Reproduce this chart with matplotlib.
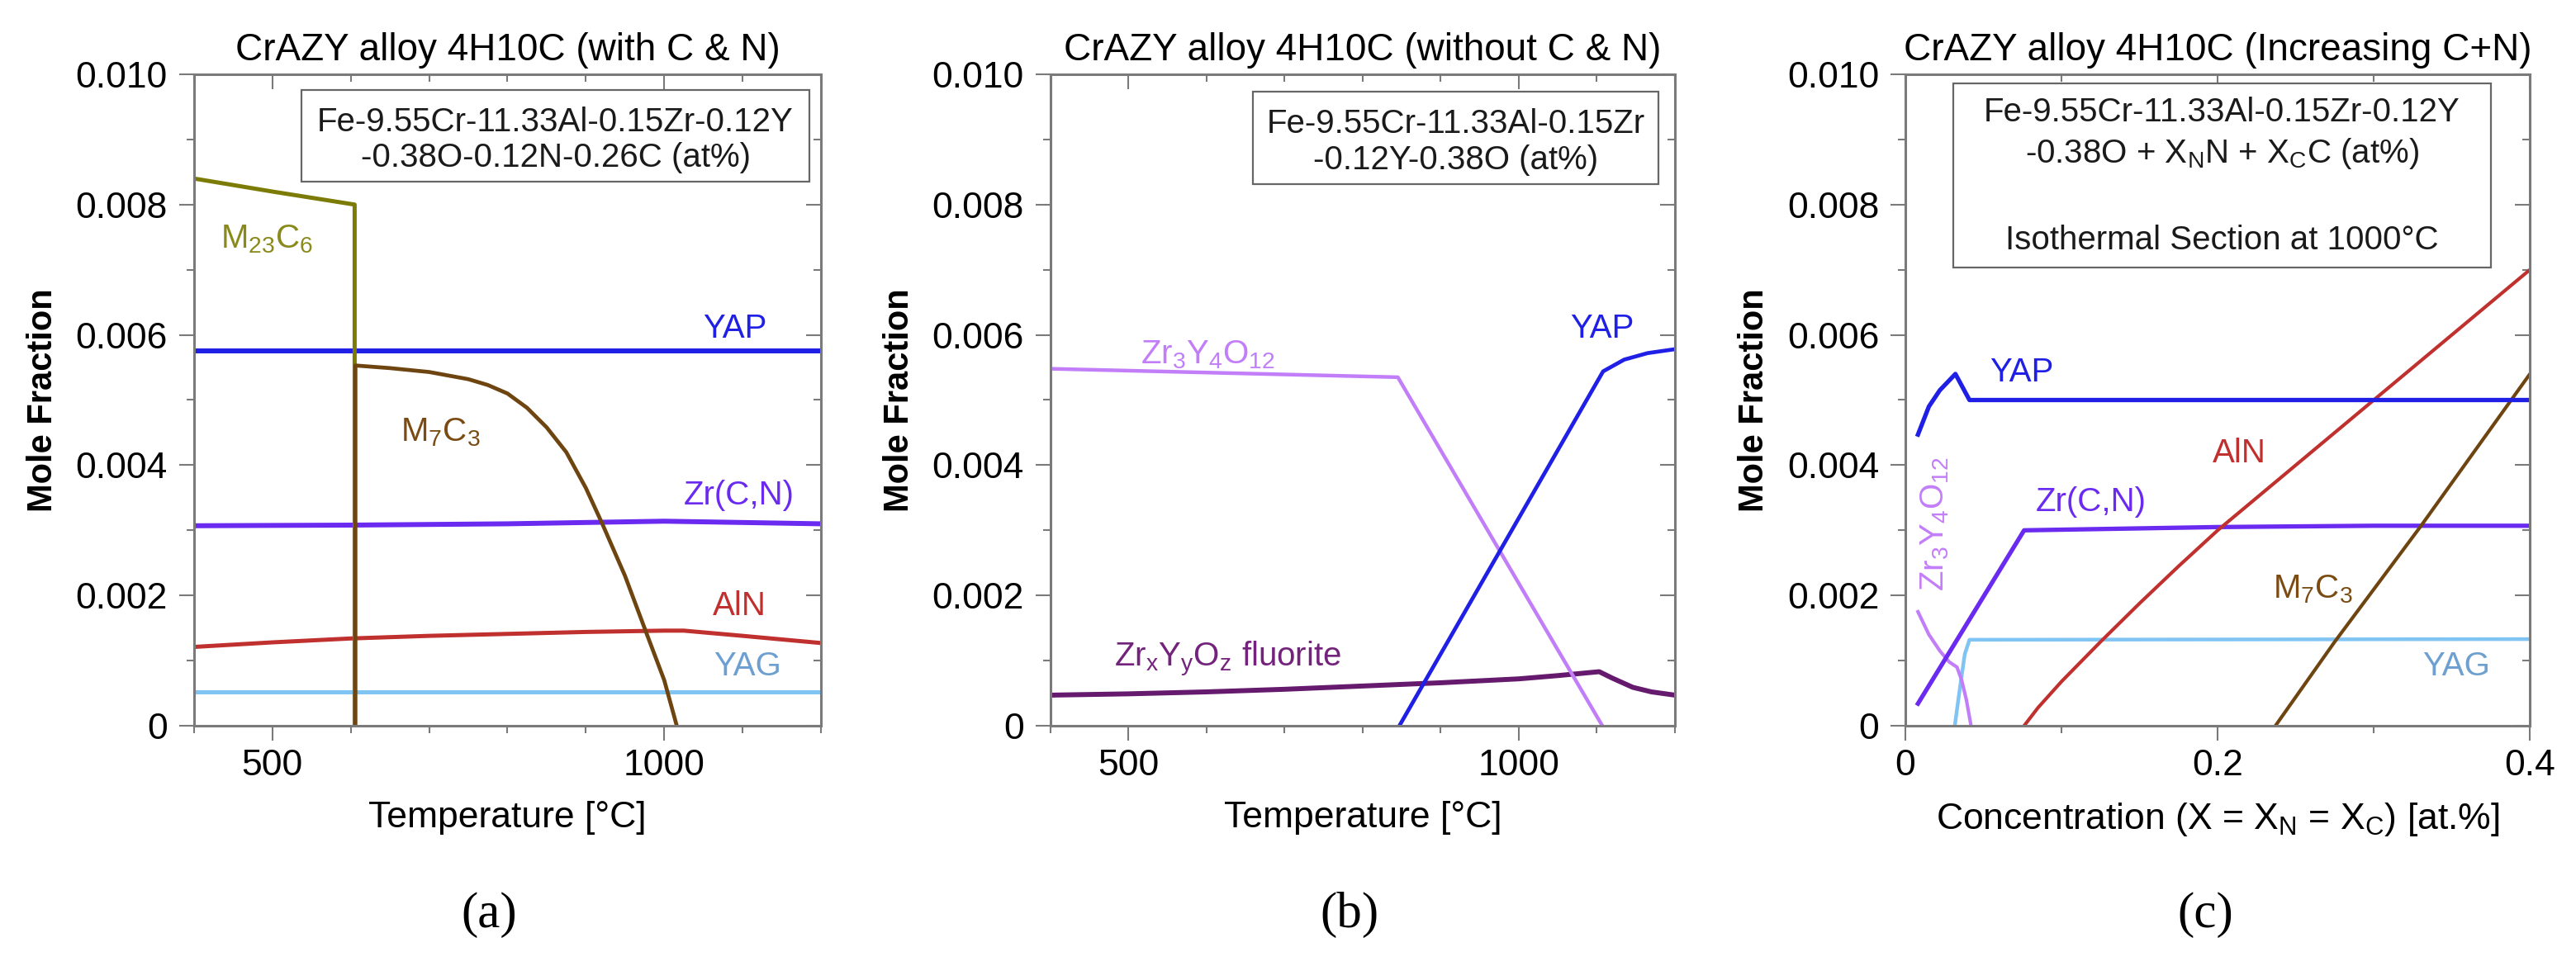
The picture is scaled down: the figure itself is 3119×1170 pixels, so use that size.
import matplotlib
matplotlib.use('Agg')
import matplotlib.pyplot as plt
from matplotlib.patches import Rectangle
from matplotlib.ticker import MultipleLocator, FuncFormatter

plt.rcParams['font.family'] = ['Liberation Sans', 'DejaVu Sans']
plt.rcParams['mathtext.default'] = 'regular'

# ---- (a) with C & N, mole fraction vs temperature ----
temp_m23c6 = [400, 500, 605, 605]
m23c6_a = [0.0084, 0.0082, 0.0080, 0.0]
temp_m7c3 = [606, 606, 650, 700, 750, 775, 800, 825, 850, 875, 900, 921, 950, 978, 1000, 1016]
m7c3_a = [0.0, 0.00553, 0.00549, 0.00543, 0.00532, 0.00523, 0.0051, 0.00488, 0.00458,
          0.0042, 0.00365, 0.0031, 0.0023, 0.0014, 0.0007, 0.0]
temp_yap_a = [400, 1200]
yap_a = [0.00575, 0.00575]
temp_zrcn_a = [400, 600, 800, 1000, 1050, 1200]
zrcn_a = [0.00307, 0.00308, 0.0031, 0.00314, 0.00313, 0.0031]
temp_aln_a = [400, 500, 600, 700, 800, 900, 1000, 1025, 1100, 1200]
aln_a = [0.00121, 0.00128, 0.00134, 0.00138, 0.00141, 0.00144, 0.00146, 0.00146, 0.00138, 0.00127]
temp_yag_a = [400, 1200]
yag_a = [0.00052, 0.00052]

# ---- (b) without C & N ----
temp_zr3_b = [400, 845, 1107]
zr3_b = [0.00548, 0.00535, 0.0]
temp_yap_b = [847, 1108, 1135, 1165, 1200]
yap_b = [0.0, 0.00544, 0.00562, 0.00572, 0.00578]
temp_fl_b = [400, 500, 600, 700, 800, 900, 1000, 1050, 1103, 1120, 1146, 1170, 1200]
fluorite_b = [0.00047, 0.00049, 0.00052, 0.00056, 0.00061, 0.00066, 0.00072, 0.00077,
              0.00083, 0.00073, 0.00059, 0.00052, 0.00047]

# ---- (c) isothermal section at 1000 C vs C+N concentration ----
conc_yap = [0.008, 0.015, 0.022, 0.032, 0.041, 0.4]
yap_c = [0.00447, 0.0049, 0.00515, 0.0054, 0.0050, 0.0050]
conc_zrcn = [0.008, 0.076, 0.2, 0.3, 0.4]
zrcn_c = [0.00034, 0.0030, 0.00305, 0.00307, 0.00307]
conc_zr3 = [0.008, 0.015, 0.022, 0.028, 0.033, 0.036, 0.039, 0.042]
zr3_c = [0.00175, 0.0014, 0.00115, 0.00098, 0.0009, 0.0007, 0.0004, 0.0]
conc_yag = [0.0316, 0.035, 0.038, 0.041, 0.4]
yag_c = [0.0, 0.0006, 0.0011, 0.00132, 0.00133]
conc_aln = [0.076, 0.085, 0.1, 0.125, 0.15, 0.175, 0.2, 0.3, 0.4]
aln_c = [0.0, 0.00028, 0.00068, 0.00129, 0.00188, 0.00245, 0.0030, 0.0050, 0.0070]
conc_m7c3 = [0.237, 0.275, 0.33, 0.4]
m7c3_c = [0.0, 0.00129, 0.00306, 0.0054]

titles = ['CrAZY alloy 4H10C (with C & N)',
          'CrAZY alloy 4H10C (without C & N)',
          'CrAZY alloy 4H10C (Increasing C+N)']
panel_tags = ['(a)', '(b)', '(c)']

OLIVE = '#7b7b05'
BLUE = '#1f1fe6'
BROWN = '#6e4510'
VIOLET = '#6a2af0'
RED = '#c0302e'
LBLUE = '#80c4f4'
LPURPLE = '#c27ef8'
DPURPLE = '#651a6e'
GRAY = '#7a7a7a'

fig = plt.figure(figsize=(31.19, 11.70), dpi=100)
ax_a = fig.add_axes([0.0753, 0.2487, 0.2434, 0.6744])
ax_b = fig.add_axes([0.4078, 0.2487, 0.2424, 0.6744])
ax_c = fig.add_axes([0.7397, 0.2487, 0.2424, 0.6744])


def yfmt(v, pos):
    return '0' if abs(v) < 1e-12 else f'{v:.3f}'


def style(ax, xmaj, xmin, xfmt):
    for s in ax.spines.values():
        s.set_color(GRAY)
        s.set_linewidth(2.2)
    ax.set_ylim(0, 0.010)
    ax.yaxis.set_major_locator(MultipleLocator(0.002))
    ax.yaxis.set_minor_locator(MultipleLocator(0.001))
    ax.yaxis.set_major_formatter(FuncFormatter(yfmt))
    ax.xaxis.set_major_locator(MultipleLocator(xmaj))
    ax.xaxis.set_minor_locator(MultipleLocator(xmin))
    ax.xaxis.set_major_formatter(FuncFormatter(xfmt))
    ax.tick_params(which='both', direction='out', color=GRAY, width=1.5, labelsize=32)
    ax.tick_params(which='major', length=13)
    ax.tick_params(which='minor', length=6.5)
    ax.tick_params(axis='y', pad=10)
    ax.tick_params(axis='x', pad=7)
    # inward ticks on the top and right sides
    top = ax.secondary_xaxis('top')
    top.xaxis.set_major_locator(MultipleLocator(xmaj))
    top.xaxis.set_minor_locator(MultipleLocator(xmin))
    top.tick_params(which='both', direction='in', color=GRAY, width=1.5, labeltop=False)
    top.tick_params(which='major', length=13)
    top.tick_params(which='minor', length=6.5)
    top.spines['top'].set_visible(False)
    right = ax.secondary_yaxis('right')
    right.yaxis.set_major_locator(MultipleLocator(0.002))
    right.yaxis.set_minor_locator(MultipleLocator(0.001))
    right.tick_params(which='both', direction='in', color=GRAY, width=1.5, labelright=False)
    right.tick_params(which='major', length=13)
    right.tick_params(which='minor', length=6.5)
    right.spines['right'].set_visible(False)
    ax.set_ylabel('Mole Fraction', fontsize=30, fontweight='bold', labelpad=14)


def comp_box(ax, x0, y0, x1, y1, lines):
    ax.add_patch(Rectangle((x0, y0), x1 - x0, y1 - y0, transform=ax.transAxes,
                           facecolor='white', edgecolor='#666666', lw=1.6, zorder=5))
    for txt, yy in lines:
        ax.text((x0 + x1) / 2, yy, txt, transform=ax.transAxes, ha='center', va='center',
                fontsize=29, color='#1a1a1a', zorder=6)


tempfmt = lambda v, p: f'{v:.0f}'
concfmt = lambda v, p: '0' if abs(v) < 1e-9 else f'{v:.1f}'

# ---- panel (a) ----
ax = ax_a
style(ax, 500, 100, tempfmt)
ax.set_xlim(400, 1200)
ax.plot(temp_yag_a, yag_a, color=LBLUE, lw=3.6)
ax.plot(temp_aln_a, aln_a, color=RED, lw=3.6)
ax.plot(temp_zrcn_a, zrcn_a, color=VIOLET, lw=4.3)
ax.plot(temp_yap_a, yap_a, color=BLUE, lw=4.3)
ax.plot(temp_m23c6, m23c6_a, color=OLIVE, lw=3.6)
ax.plot(temp_m7c3, m7c3_a, color=BROWN, lw=3.4)
ax.text(493, 0.00747, r'M$_{23}$C$_6$', color='#8a8a1c', fontsize=29, ha='center', va='center')
ax.text(1090, 0.0061, 'YAP', color=BLUE, fontsize=29, ha='center', va='center')
ax.text(714, 0.0045, r'M$_7$C$_3$', color='#7a4c14', fontsize=29, ha='center', va='center')
ax.text(1095, 0.00354, 'Zr(C,N)', color=VIOLET, fontsize=29, ha='center', va='center')
ax.text(1096, 0.00184, 'AlN', color=RED, fontsize=29, ha='center', va='center')
ax.text(1106, 0.00091, 'YAG', color='#6d9fd0', fontsize=29, ha='center', va='center')
comp_box(ax, 0.171, 0.835, 0.982, 0.976,
         [('Fe-9.55Cr-11.33Al-0.15Zr-0.12Y', 0.927), ('-0.38O-0.12N-0.26C (at%)', 0.872)])
ax.set_xlabel('Temperature [°C]', fontsize=32, labelpad=16)

# ---- panel (b) ----
ax = ax_b
style(ax, 500, 100, tempfmt)
ax.set_xlim(400, 1200)
ax.plot(temp_fl_b, fluorite_b, color=DPURPLE, lw=4.3)
ax.plot(temp_zr3_b, zr3_b, color=LPURPLE, lw=3.2)
ax.plot(temp_yap_b, yap_b, color=BLUE, lw=3.4)
ax.text(601, 0.0057, r'Zr$_3$Y$_4$O$_{12}$', color=LPURPLE, fontsize=29, ha='center', va='center')
ax.text(1107, 0.0061, 'YAP', color=BLUE, fontsize=29, ha='center', va='center')
ax.text(627, 0.00102, r'Zr$_x$Y$_y$O$_z$ fluorite', color='#74237c', fontsize=29, ha='center', va='center')
comp_box(ax, 0.324, 0.831, 0.974, 0.973,
         [('Fe-9.55Cr-11.33Al-0.15Zr', 0.924), ('-0.12Y-0.38O (at%)', 0.868)])
ax.set_xlabel('Temperature [°C]', fontsize=32, labelpad=16)

# ---- panel (c) ----
ax = ax_c
style(ax, 0.2, 0.1, concfmt)
ax.set_xlim(0, 0.4)
ax.plot(conc_yag, yag_c, color=LBLUE, lw=3.2)
ax.plot(conc_zr3, zr3_c, color=LPURPLE, lw=3.0)
ax.plot(conc_zrcn, zrcn_c, color=VIOLET, lw=3.8)
ax.plot(conc_aln, aln_c, color=RED, lw=3.0)
ax.plot(conc_m7c3, m7c3_c, color=BROWN, lw=3.0)
ax.plot(conc_yap, yap_c, color=BLUE, lw=3.8)
ax.text(0.0744, 0.00543, 'YAP', color=BLUE, fontsize=29, ha='center', va='center')
ax.text(0.214, 0.00418, 'AlN', color=RED, fontsize=29, ha='center', va='center')
ax.text(0.119, 0.00343, 'Zr(C,N)', color=VIOLET, fontsize=29, ha='center', va='center')
ax.text(0.261, 0.0021, r'M$_7$C$_3$', color='#7a4c14', fontsize=29, ha='center', va='center')
ax.text(0.353, 0.00091, 'YAG', color='#6d9fd0', fontsize=29, ha='center', va='center')
ax.text(0.019, 0.0031, r'Zr$_3$Y$_4$O$_{12}$', color=LPURPLE, fontsize=29, ha='center',
        va='center', rotation=90)
comp_box(ax, 0.077, 0.704, 0.937, 0.986,
         [('Fe-9.55Cr-11.33Al-0.15Zr-0.12Y', 0.942), (r'-0.38O + X$_N$N + X$_C$C (at%)', 0.878),
          ('Isothermal Section at 1000°C', 0.745)])
ax.set_xlabel(r'Concentration (X = X$_N$ = X$_C$) [at.%]', fontsize=32, labelpad=16)

for ax, t in zip([ax_a, ax_b, ax_c], titles):
    ax.set_title(t, fontsize=33, pad=12)

for xpos, tag in zip([0.1898, 0.5239, 0.8561], panel_tags):
    fig.text(xpos, 0.053, tag, fontsize=44, family='Liberation Serif', ha='center', va='center')

fig.savefig('out.png', dpi=100)
